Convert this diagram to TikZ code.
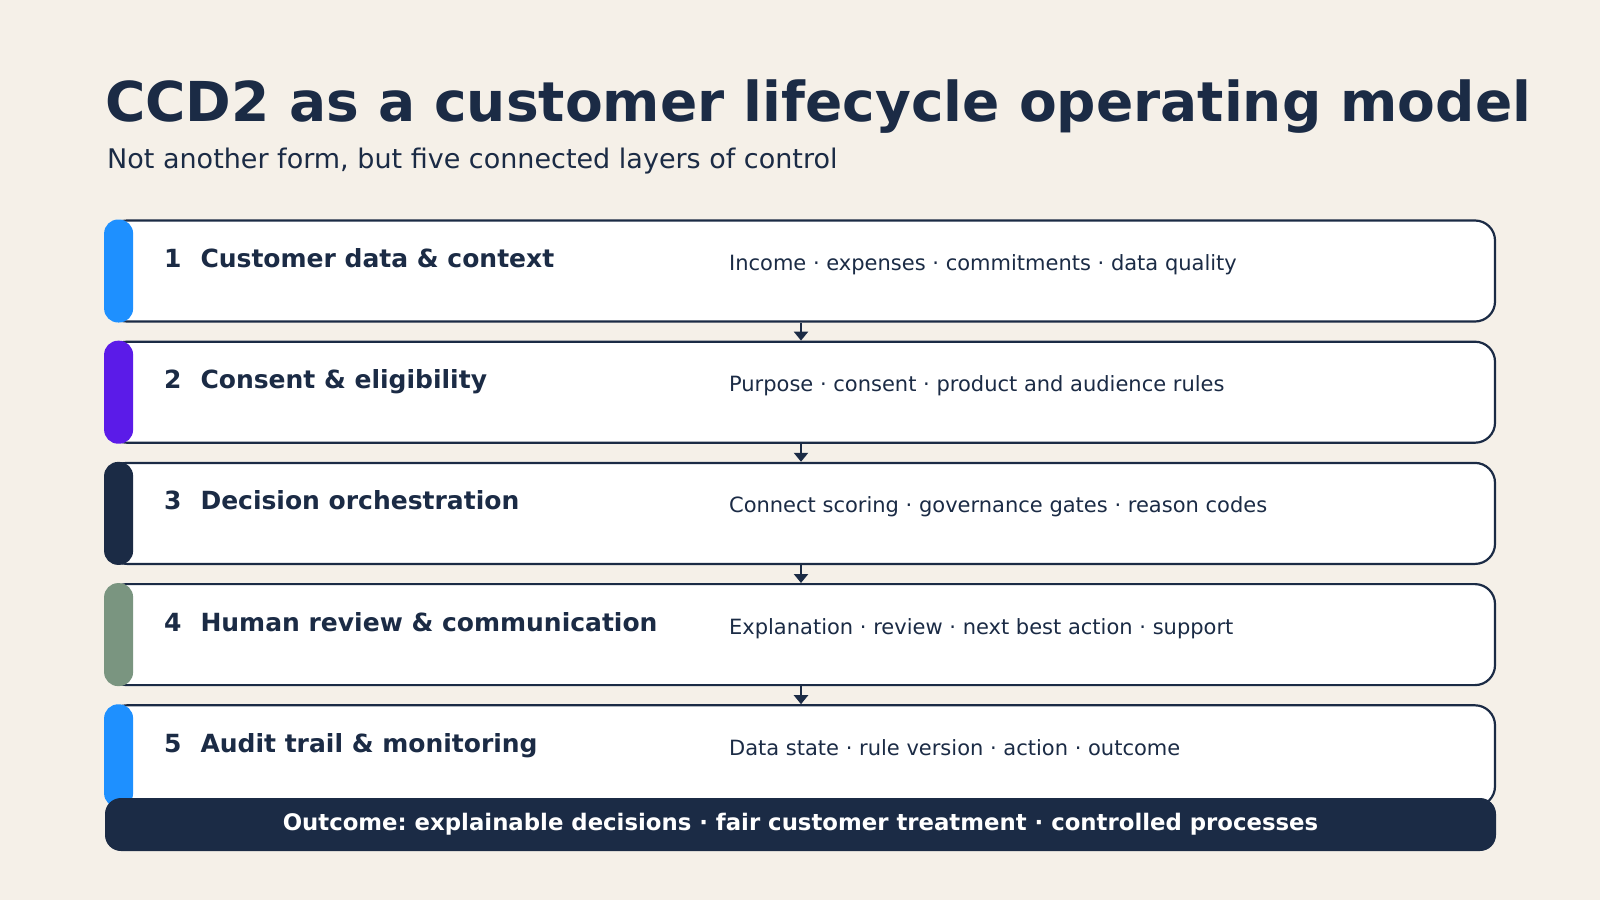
\documentclass[tikz,border=0pt]{standalone}
\usepackage{fontspec}
\setmainfont{DejaVu Sans}
\frenchspacing
\usetikzlibrary{positioning, arrows.meta}
\definecolor{navy}{HTML}{1B2B45}
\definecolor{paper}{HTML}{F5F0E8}
\definecolor{cblue}{HTML}{1E90FF}
\definecolor{cpurple}{HTML}{5B1BE8}
\definecolor{csage}{HTML}{7A9580}
\tikzstyle{layer} = [rectangle, draw=navy, line width=2.2pt, rounded corners=20pt, fill=white, minimum width=1388pt, minimum height=101pt, inner sep=0]
\tikzstyle{bar} = [rectangle, rounded corners=14pt, minimum width=29pt, minimum height=103pt, inner sep=0]
\tikzstyle{head} = [anchor=base west, inner sep=0, text=navy, font=\fontsize{25pt}{29pt}\selectfont\bfseries]
\tikzstyle{desc} = [anchor=base west, inner sep=0, text=navy, font=\fontsize{21pt}{25pt}\selectfont]
\tikzstyle{line} = [draw=navy, line width=2.2pt, -{Triangle[length=9pt,width=14pt]}]

\begin{document}
\begin{tikzpicture}[x=1pt, y=-1pt, node distance=18pt]
\useasboundingbox[fill=paper] (0,0) rectangle (1600,900);

\node [anchor=base west, inner sep=0, text=navy, font=\fontsize{55pt}{62pt}\selectfont\bfseries] (title) at (105,121) {CCD2 as a customer lifecycle operating model};
\node [anchor=base west, inner sep=0, text=navy, font=\fontsize{27pt}{32pt}\selectfont] (sub) at (107,168) {Not another form, but five connected layers of control};

\node [layer] (L1) at (801,271) {};
\node [layer, below=of L1] (L2) {};
\node [layer, below=of L2] (L3) {};
\node [layer, below=of L3] (L4) {};
\node [layer, below=of L4] (L5) {};

\node [bar, fill=cblue, anchor=west] (B1) at ([xshift=-2pt]L1.west) {};
\node [bar, fill=cpurple, anchor=west] (B2) at ([xshift=-2pt]L2.west) {};
\node [bar, fill=navy, anchor=west] (B3) at ([xshift=-2pt]L3.west) {};
\node [bar, fill=csage, anchor=west] (B4) at ([xshift=-2pt]L4.west) {};
\node [bar, fill=cblue, anchor=west] (B5) at ([xshift=-2pt]L5.west) {};

\node [head] (H1) at ([xshift=58pt, yshift=-48pt]L1.north west) {1\hspace{19pt}Customer data \& context};
\node [head] (H2) at ([xshift=58pt, yshift=-48pt]L2.north west) {2\hspace{19pt}Consent \& eligibility};
\node [head] (H3) at ([xshift=58pt, yshift=-48pt]L3.north west) {3\hspace{19pt}Decision orchestration};
\node [head] (H4) at ([xshift=58pt, yshift=-48pt]L4.north west) {4\hspace{19pt}Human review \& communication};
\node [head] (H5) at ([xshift=58pt, yshift=-48pt]L5.north west) {5\hspace{19pt}Audit trail \& monitoring};

\node [desc] (D1) at ([xshift=623pt, yshift=-51pt]L1.north west) {Income · expenses · commitments · data quality};
\node [desc] (D2) at ([xshift=623pt, yshift=-51pt]L2.north west) {Purpose · consent · product and audience rules};
\node [desc] (D3) at ([xshift=623pt, yshift=-51pt]L3.north west) {Connect scoring · governance gates · reason codes};
\node [desc] (D4) at ([xshift=623pt, yshift=-51pt]L4.north west) {Explanation · review · next best action · support};
\node [desc] (D5) at ([xshift=623pt, yshift=-51pt]L5.north west) {Data state · rule version · action · outcome};

\path [line] (L1) -- (L2);
\path [line] (L2) -- (L3);
\path [line] (L3) -- (L4);
\path [line] (L4) -- (L5);

\node [rectangle, fill=navy, rounded corners=16pt, minimum width=1391pt, minimum height=53pt, inner sep=0, text=white, font=\fontsize{22.8pt}{26pt}\selectfont\bfseries] (out) at (800.5,824.5) {Outcome: explainable decisions · fair customer treatment · controlled processes};

\end{tikzpicture}
\end{document}
